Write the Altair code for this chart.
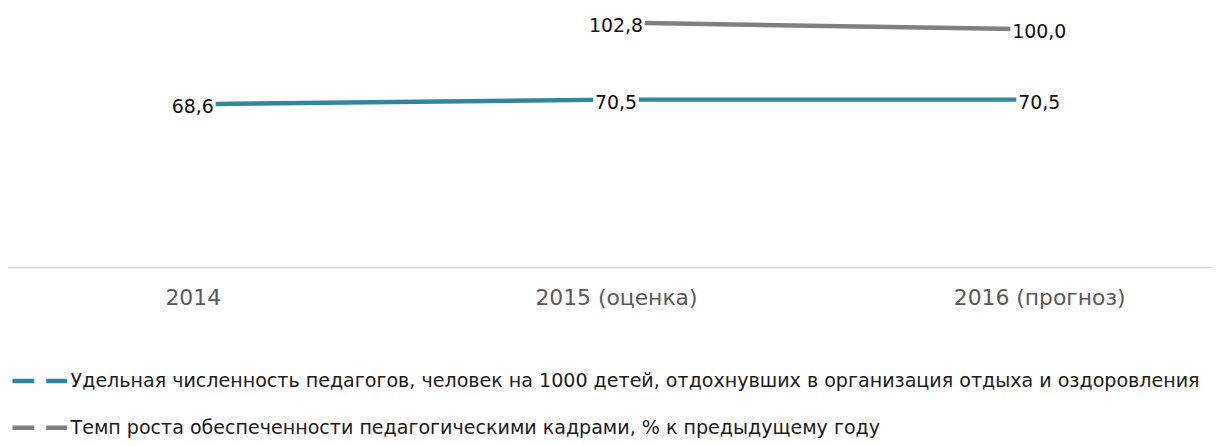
import altair as alt
import pandas as pd

categories = ["2014", "2015 (оценка)", "2016 (прогноз)"]
series_names = [
    "Удельная численность педагогов, человек на 1000 детей, отдохнувших в организация отдыха и оздоровления",
    "Темп роста обеспеченности педагогическими кадрами, % к предыдущему году",
]
teacher_ratio = [68.6, 70.5, 70.5]
growth_rate = [None, 102.8, 100.0]
series_colors = ["#31859C", "#7F7F7F"]
baseline_value = [0]

rows = []
for name, vals in zip(series_names, [teacher_ratio, growth_rate]):
    for cat, v in zip(categories, vals):
        if v is None:
            continue
        rows.append({"category": cat, "series": name, "value": v,
                     "label": f"{v:.1f}".replace(".", ",")})
df = pd.DataFrame(rows)

FONT = "DejaVu Sans"

x = alt.X("category:N", sort=categories,
          scale=alt.Scale(type="point", range=[186, 1038], padding=0),
          axis=alt.Axis(title=None, labelAngle=0, ticks=False, grid=False,
                        domain=False,
                        labelFontSize=22, labelFont=FONT, labelColor="#595959",
                        labelPadding=20))
y = alt.Y("value:Q", scale=alt.Scale(domain=[0, 108.33], nice=False, zero=True), axis=None)
color = alt.Color("series:N", sort=series_names,
                  scale=alt.Scale(domain=series_names, range=series_colors),
                  legend=alt.Legend(title=None, orient="none", legendX=2, legendY=344,
                                    direction="vertical", symbolType="stroke",
                                    symbolSize=3025, symbolStrokeWidth=4.5,
                                    symbolDash=[22, 12], labelFont=FONT,
                                    labelFontSize=19.2, labelColor="#1a1a1a",
                                    labelLimit=1400, labelOffset=1, rowPadding=6,
                                    padding=0))

base = alt.Chart(df)

baseline = alt.Chart(pd.DataFrame({"value": baseline_value})).mark_rule(
    color="#D9D9D9", strokeWidth=1.5).encode(
    y=y, x=alt.value(0), x2=alt.value(1212))

lines = base.mark_line(strokeWidth=4.5, strokeCap="butt").encode(x=x, y=y, color=color)

teal_boxes = base.transform_filter(alt.datum.series == series_names[0]).mark_point(
    shape="M-1,-0.45H1V0.45H-1Z", filled=True, fill="white", opacity=1,
    strokeWidth=0, size=2116).encode(x=x, y=y)
gray_boxes = base.transform_filter(alt.datum.series == series_names[1]).mark_point(
    shape="M-1,-0.35H1V0.35H-1Z", filled=True, fill="white", opacity=1,
    strokeWidth=0, size=3364).encode(x=x, y=y)

labels = base.mark_text(font=FONT, fontSize=19, dy=3, color="#0d0d0d",
                        baseline="middle", align="center").encode(x=x, y=y, text="label:N")

chart = alt.layer(baseline, lines, teal_boxes, gray_boxes, labels).properties(
    width=1212, height=260,
    autosize=alt.AutoSizeParams(type="none"),
    padding={"left": 0, "top": 0, "right": 0, "bottom": 170},
).configure_view(stroke=None)

chart.save("out.html", embed_options={"renderer": "svg", "actions": False})
